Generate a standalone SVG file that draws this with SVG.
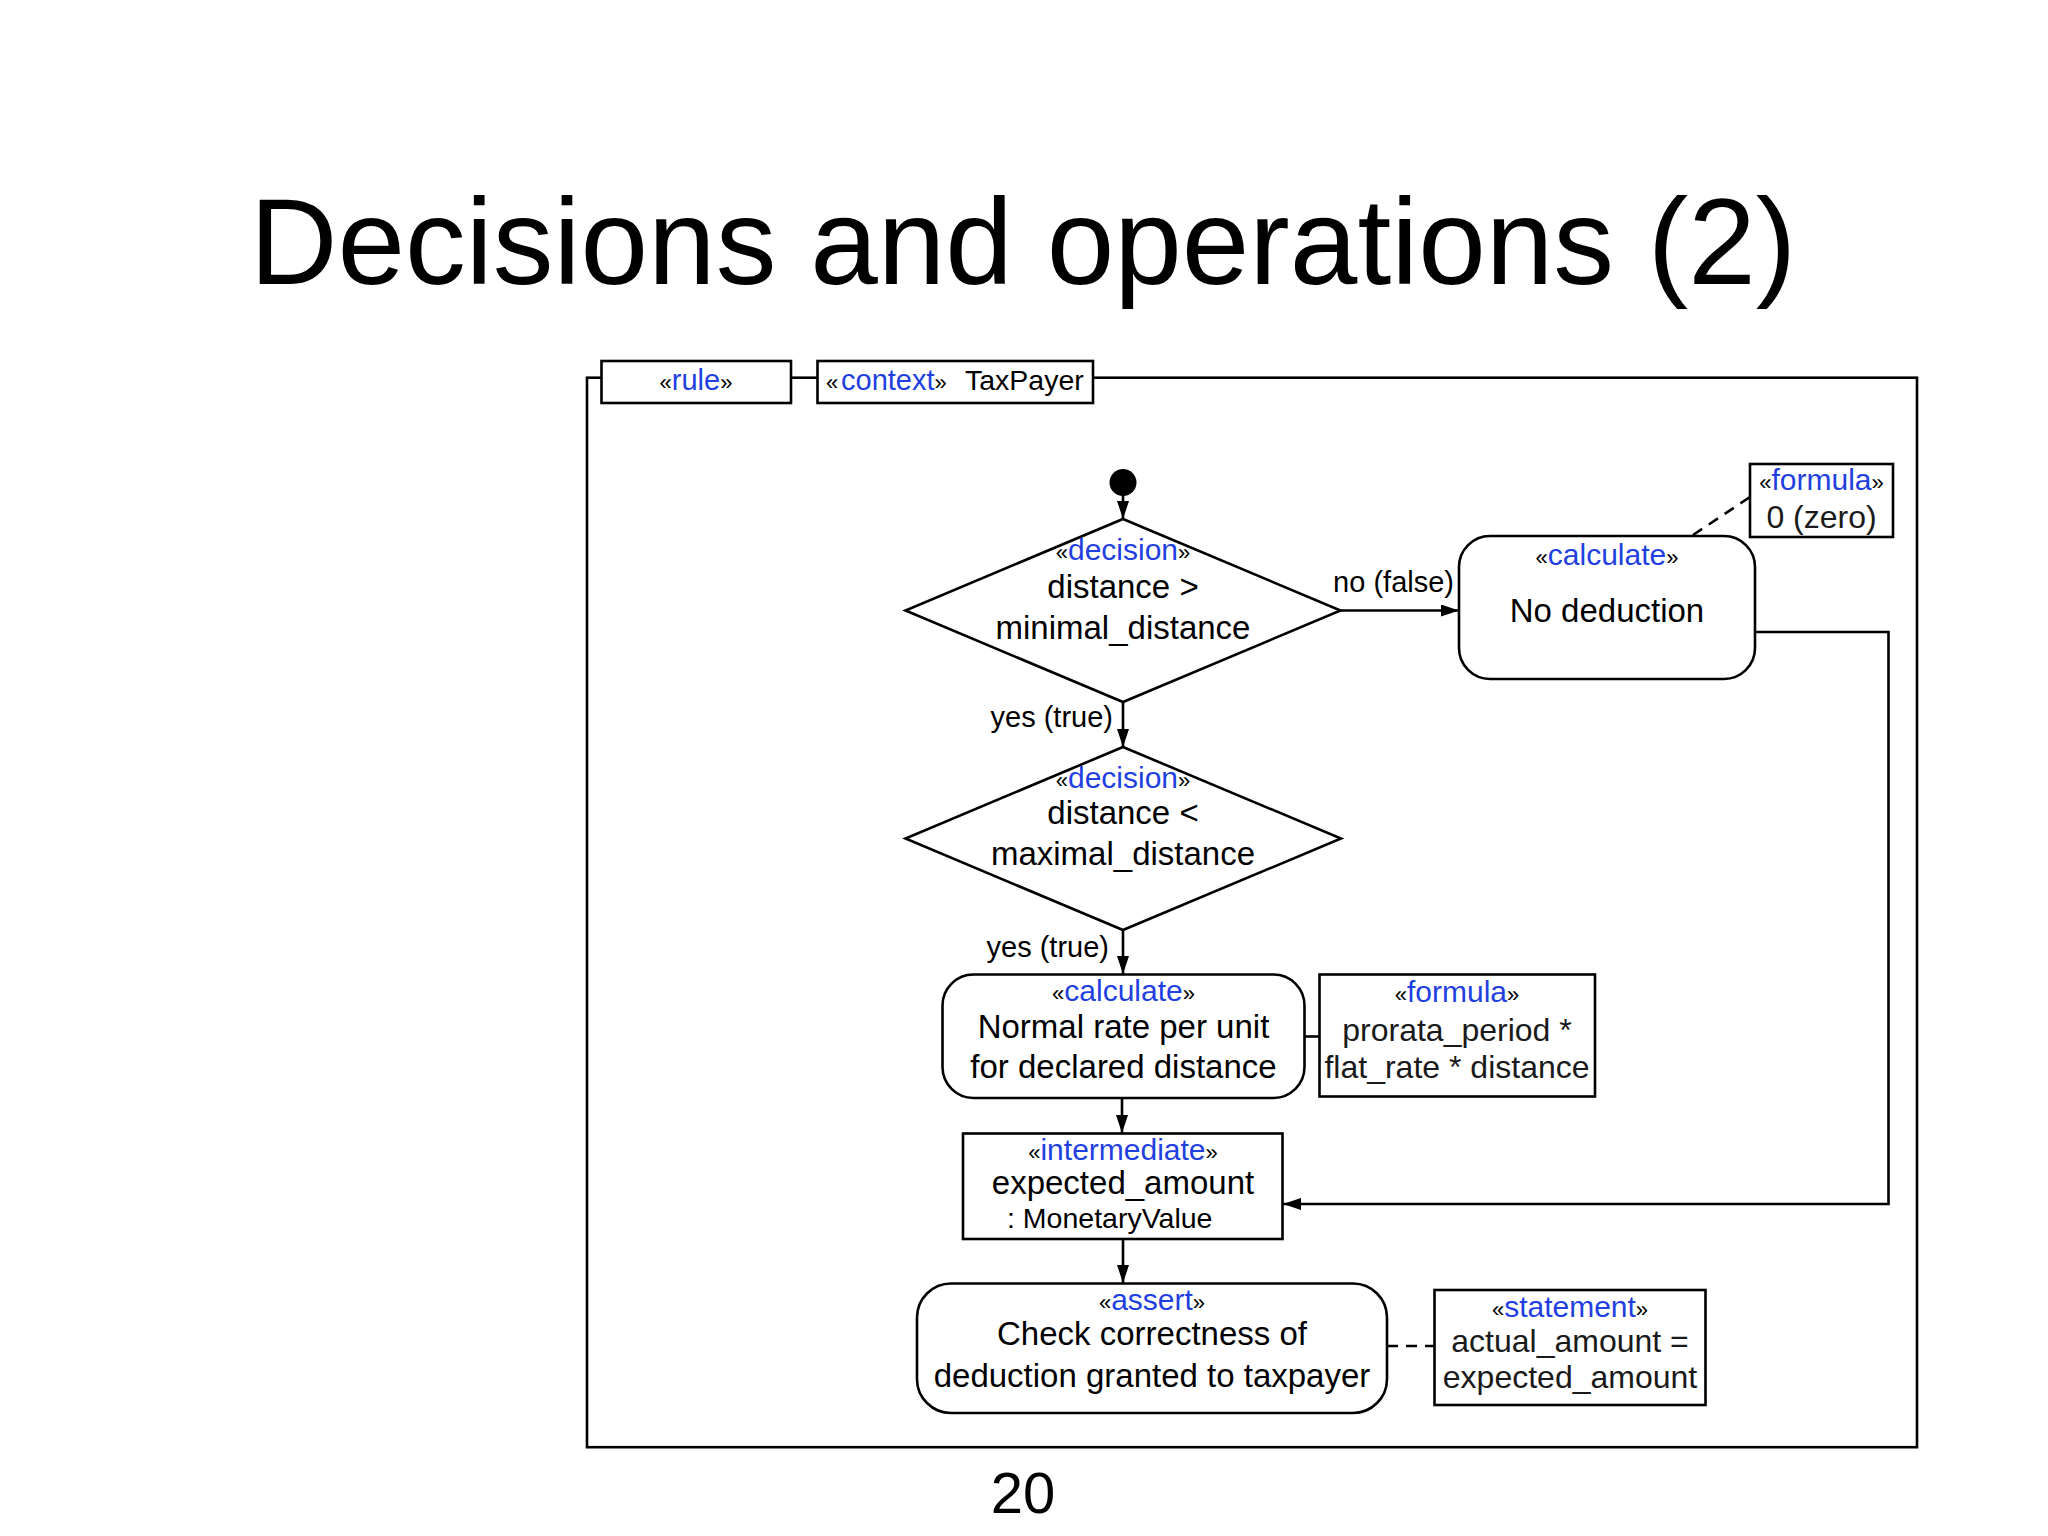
<svg xmlns="http://www.w3.org/2000/svg" width="2048" height="1536" viewBox="0 0 2048 1536">
<style>
text{font-family:"Liberation Sans",Arial,Helvetica,sans-serif;fill:#000}
.title{font-size:121.5px}
.st{font-size:30px;fill:#1f3fe0;text-anchor:middle}
.g{font-size:22px;fill:#000}
.m{font-size:33px;text-anchor:middle}
.f{font-size:32px;text-anchor:middle;fill:#1a1a1a}
.lbl{font-size:29px}
.shape{fill:#fff;stroke:#000;stroke-width:2.6}
.ln{fill:none;stroke:#000;stroke-width:2.6}
.dash{fill:none;stroke:#000;stroke-width:2.6;stroke-dasharray:11 8}
</style>
<defs>
<marker id="arr" markerUnits="userSpaceOnUse" markerWidth="18" markerHeight="12" refX="18" refY="6" orient="auto">
<path d="M0,0 L18,6 L0,12 z" fill="#000"/>
</marker>
</defs>
<rect width="2048" height="1536" fill="#fff"/>
<text class="title" x="1023" y="284" text-anchor="middle">Decisions and operations (2)</text>

<g id="frame">
<rect class="ln" x="587" y="377.7" width="1330" height="1069.5"/>
</g>
<g id="rule">
<rect class="shape" x="601.5" y="361" width="189.5" height="42"/>
<text x="696" y="390" text-anchor="middle" font-size="29"><tspan class="g">«</tspan><tspan fill="#1f3fe0">rule</tspan><tspan class="g">»</tspan></text>
</g>
<g id="context">
<rect class="shape" x="817.5" y="361" width="275.5" height="42"/>
<text x="826" y="390" font-size="29"><tspan class="g">«</tspan><tspan fill="#1f3fe0" x="841">context</tspan><tspan class="g">»</tspan><tspan x="965" font-size="28.5">TaxPayer</tspan></text>
</g>

<g id="connectors">
<line class="ln" x1="1123" y1="495" x2="1123" y2="519" marker-end="url(#arr)"/>
<line class="ln" x1="1340.5" y1="610.5" x2="1459" y2="610.5" marker-end="url(#arr)"/>
<line class="ln" x1="1123" y1="702" x2="1123" y2="747" marker-end="url(#arr)"/>
<line class="ln" x1="1123" y1="930" x2="1123" y2="974" marker-end="url(#arr)"/>
<line class="ln" x1="1122" y1="1098" x2="1122" y2="1133" marker-end="url(#arr)"/>
<line class="ln" x1="1123" y1="1239" x2="1123" y2="1283" marker-end="url(#arr)"/>
<polyline class="ln" points="1755,632 1888.5,632 1888.5,1204 1283,1204" marker-end="url(#arr)"/>
<line class="dash" x1="1693" y1="535" x2="1750" y2="497"/>
<line class="ln" x1="1304.5" y1="1036.5" x2="1319.5" y2="1036.5"/>
<line class="dash" x1="1387" y1="1346" x2="1434.5" y2="1346"/>
<text class="lbl" x="1454" y="592" text-anchor="end">no (false)</text>
<text class="lbl" x="1113" y="727" text-anchor="end">yes (true)</text>
<text class="lbl" x="1109" y="957" text-anchor="end">yes (true)</text>
</g>

<g id="start">
<circle cx="1123" cy="482.5" r="13.5" fill="#000"/>
</g>

<g id="decision1">
<polygon class="shape" points="1123,519 1340.5,610.5 1123,702 905.5,610.5"/>
<text class="st" x="1123" y="560"><tspan class="g">«</tspan>decision<tspan class="g">»</tspan></text>
<text class="m" x="1123" y="598">distance &gt;</text>
<text class="m" x="1123" y="639">minimal_distance</text>
</g>

<g id="decision2">
<polygon class="shape" points="1123,747 1341,838.5 1123,930 905.5,838.5"/>
<text class="st" x="1123" y="788"><tspan class="g">«</tspan>decision<tspan class="g">»</tspan></text>
<text class="m" x="1123" y="824">distance &lt;</text>
<text class="m" x="1123" y="865">maximal_distance</text>
</g>

<g id="nodeduction">
<rect class="shape" x="1459" y="536" width="296" height="143" rx="31" ry="31"/>
<text class="st" x="1607" y="565"><tspan class="g">«</tspan>calculate<tspan class="g">»</tspan></text>
<text class="m" x="1607" y="622">No deduction</text>
</g>

<g id="formula1">
<rect class="shape" x="1750" y="464" width="143" height="73"/>
<text class="st" x="1821.5" y="490"><tspan class="g">«</tspan>formula<tspan class="g">»</tspan></text>
<text class="f" x="1821.5" y="528">0 (zero)</text>
</g>

<g id="normalrate">
<rect class="shape" x="942.5" y="974.5" width="362" height="123.5" rx="31" ry="31"/>
<text class="st" x="1123.5" y="1001"><tspan class="g">«</tspan>calculate<tspan class="g">»</tspan></text>
<text class="m" x="1123.5" y="1038">Normal rate per unit</text>
<text class="m" x="1123.5" y="1078">for declared distance</text>
</g>

<g id="formula2">
<rect class="shape" x="1319.5" y="974.5" width="275.5" height="122"/>
<text class="st" x="1457" y="1002"><tspan class="g">«</tspan>formula<tspan class="g">»</tspan></text>
<text class="f" x="1457" y="1041">prorata_period *</text>
<text class="f" x="1457" y="1078">flat_rate * distance</text>
</g>

<g id="intermediate">
<rect class="shape" x="963" y="1133.5" width="319.5" height="105.5"/>
<text class="st" x="1123" y="1160"><tspan class="g">«</tspan>intermediate<tspan class="g">»</tspan></text>
<text class="m" x="1123" y="1194">expected_amount</text>
<text x="1007" y="1228" font-size="28.5" fill="#1a1a1a">: MonetaryValue</text>
</g>

<g id="assert">
<rect class="shape" x="917" y="1283.5" width="470" height="129.5" rx="34" ry="34"/>
<text class="st" x="1152" y="1310"><tspan class="g">«</tspan>assert<tspan class="g">»</tspan></text>
<text class="m" x="1152" y="1345">Check correctness of</text>
<text class="m" x="1152" y="1387">deduction granted to taxpayer</text>
</g>

<g id="statement">
<rect class="shape" x="1434.5" y="1290" width="271" height="115"/>
<text class="st" x="1570" y="1317"><tspan class="g">«</tspan>statement<tspan class="g">»</tspan></text>
<text class="f" x="1570" y="1352">actual_amount =</text>
<text class="f" x="1570" y="1388">expected_amount</text>
</g>

<text x="1023" y="1513" text-anchor="middle" font-size="58">20</text>
</svg>
